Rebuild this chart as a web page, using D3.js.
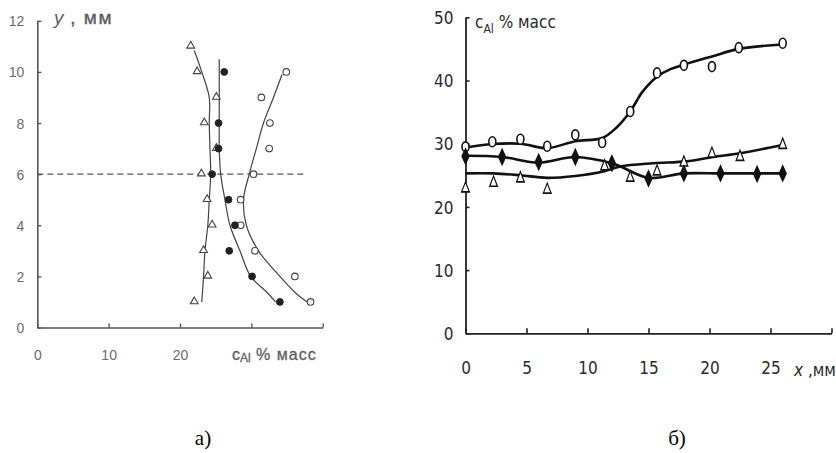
<!DOCTYPE html>
<html><head><meta charset="utf-8">
<script src="https://cdn.jsdelivr.net/npm/d3@7"></script>
<style>
body{margin:0;background:#fff;}
svg{display:block;}
.la text{font-family:"Liberation Sans",Arial,sans-serif;}
.ra text{font-family:"Liberation Sans Narrow","DejaVu Sans Condensed","Liberation Sans",sans-serif;font-stretch:condensed;}
</style></head>
<body>
<svg id="c" width="836" height="453"></svg>
<script>
// ---------- Panel a) : y (mm) vs c_Al (% mass) ----------
const aY = [1,2,3,4,5,6,7,8,9,10,11];
const aTriC = [22.0,23.9,23.3,24.5,23.8,23.0,25.1,23.4,25.1,22.4,21.5];
const aFillY = [1,2,3,4,5,6,7,8,10];
const aFillC = [34.0,30.1,26.9,27.7,26.8,24.5,25.4,25.4,26.2];
const aOpenY = [1,2,3,4,5,6,7,8,9,10];
const aOpenC = [38.3,36.1,30.5,28.5,28.5,30.3,32.5,32.6,31.4,34.9];
// fitted curves (c, y)
const aTriFitC = [23.05,23.3,23.5,23.9,24.1,24.3,24.2,24.1,24.1,23.05,22.0];
const aTriFitY = [1,2,3,4,5,6,7,8,9,10,10.84];
const aFillFitC = [33.4,32.1,29.9,28.4,27.0,26.3,25.7,25.5,25.5,25.5,25.5];
const aFillFitY = [1.0,1.4,2,3,4,5,6,7,8,9,10.5];
const aOpenFitC = [37.8,36.4,34.0,31.0,29.3,28.9,29.7,30.7,31.7,33.1,34.3];
const aOpenFitY = [1.0,1.3,2,3,4,5,6,7,8,9,9.9];
const aDashY = 6, aDashC = [0,37.5];
const aXTicks = [0,10,20,30,40];
const aXLabels = ["0","10","20","",""];
const aYTicks = [0,2,4,6,8,10,12];

// ---------- Panel б) : c_Al (% mass) vs x (mm) ----------
const bOpenX = [0,2.2,4.5,6.7,9.0,11.2,13.5,15.7,17.9,20.2,22.4,26.0];
const bOpenC = [29.5,30.3,30.7,29.6,31.4,30.2,35.1,41.2,42.4,42.2,45.2,45.9];
const bFillX = [0,3.0,6.0,9.0,12.0,15.0,17.9,20.9,23.9,26.0];
const bFillC = [28.0,27.9,27.1,27.9,26.9,24.5,25.3,25.3,25.2,25.3];
const bTriX = [0,2.3,4.5,6.7,11.4,13.5,15.7,17.9,20.2,22.5,26.0];
const bTriC = [22.9,23.8,24.5,22.7,26.4,24.6,25.6,27.0,28.4,27.9,29.8];
// fitted curves
const bOpenFitX = [0,2.2,4.5,6.7,9.0,11.2,12.4,13.5,14.5,15.7,16.8,17.9,20.2,22.4,26.0];
const bOpenFitC = [29.4,29.95,30.0,29.3,30.4,30.9,32.6,35.1,38.2,40.6,41.8,42.5,43.8,45.0,45.7];
const bFillFitX = [0,3.0,6.0,9.0,12.0,12.7,15.0,17.9,20.9,23.9,26.0];
const bFillFitC = [28.1,27.9,27.0,27.9,26.9,26.4,24.6,25.3,25.3,25.3,25.3];
const bTriFitX = [0,2.3,4.5,6.7,9.0,11.3,12.7,15.4,18.1,20.3,22.5,26.0];
const bTriFitC = [25.3,25.3,25.0,24.6,24.9,25.6,26.4,26.9,27.2,27.9,28.5,29.8];
const bXTicks = [0,5,10,15,20,25,30];
const bXLabels = ["0","5","10","15","20","25",""];
const bYTicks = [0,10,20,30,40,50];

const svg = d3.select("#c");

// ===== Panel a =====
const ax = d3.scaleLinear().domain([0,40]).range([37.3,322.7]);
const ay = d3.scaleLinear().domain([0,12]).range([327.5,20.8]);
const ga = svg.append("g").attr("class","la");
const aCol = "#6b6b6b";

const axA = ga.append("g").attr("transform",`translate(0,${ay(0)})`)
  .call(d3.axisBottom(ax).tickValues(aXTicks).tickFormat((d,i)=>aXLabels[i]).tickSizeInner(-4).tickSizeOuter(0).tickPadding(23));
const ayA = ga.append("g").attr("transform",`translate(${ax(0)},0)`)
  .call(d3.axisLeft(ay).tickValues(aYTicks).tickSizeInner(-4).tickSizeOuter(0).tickPadding(13));
[axA,ayA].forEach(g=>{
  g.selectAll("path.domain").attr("stroke","#555").attr("stroke-width",1.6);
  g.selectAll("line").attr("stroke","#555").attr("stroke-width",1.4);
  g.selectAll("text").attr("fill",aCol).style("font-size","14px");
});
ayA.selectAll("text").attr("dy","0.36em");

// dashed line
ga.append("line").attr("x1",ax(aDashC[0])).attr("x2",ax(aDashC[1]))
  .attr("y1",ay(aDashY)).attr("y2",ay(aDashY))
  .attr("stroke","#555").attr("stroke-width",1.2).attr("stroke-dasharray","6,4");

const aLine = d3.line().x(d=>ax(d[0])).y(d=>ay(d[1])).curve(d3.curveCatmullRom.alpha(0.5));
const zip = (a,b)=>a.map((v,i)=>[v,b[i]]);
[[aTriFitC,aTriFitY],[aFillFitC,aFillFitY],[aOpenFitC,aOpenFitY]].forEach(([c,y])=>{
  ga.append("path").attr("d",aLine(zip(c,y))).attr("fill","none").attr("stroke","#444").attr("stroke-width",1.2);
});
const triA = d3.symbol(d3.symbolTriangle, 26)();
ga.selectAll(".at").data(zip(aTriC,aY)).join("path")
  .attr("d",triA).attr("transform",d=>`translate(${ax(d[0])},${ay(d[1])-0.5})`)
  .attr("fill","#fff").attr("stroke","#444").attr("stroke-width",1.1);
ga.selectAll(".ao").data(zip(aOpenC,aOpenY)).join("circle")
  .attr("cx",d=>ax(d[0])).attr("cy",d=>ay(d[1])).attr("r",3.3)
  .attr("fill","#fff").attr("stroke","#444").attr("stroke-width",1.1);
ga.selectAll(".af").data(zip(aFillC,aFillY)).join("circle")
  .attr("cx",d=>ax(d[0])).attr("cy",d=>ay(d[1])).attr("r",3.4)
  .attr("fill","#222").attr("stroke","#222");

// axis titles a
const tA = ga.append("text").attr("x",54).attr("y",24).attr("fill","#5e5e5e")
  .style("font-size","19px");
tA.append("tspan").text("y").style("font-style","italic");
tA.append("tspan").text(" ,  мм").style("letter-spacing","1.5px").style("stroke","#5e5e5e").style("stroke-width","0.4px");
const tA2 = ga.append("text").attr("x",232).attr("y",360).attr("fill","#5e5e5e").style("font-size","16px")
  .style("stroke","#5e5e5e").style("stroke-width","0.3px");
tA2.append("tspan").text("c");
tA2.append("tspan").text("Al").attr("dy",2).style("font-size","12px");
tA2.append("tspan").text(" % масс").attr("dy",-2).style("letter-spacing","1px");
svg.append("text").attr("x",203).attr("y",445).attr("text-anchor","middle")
  .style("font-family","'Liberation Serif','Times New Roman',serif").style("font-size","21px").text("а)");

// ===== Panel б =====
const bx = d3.scaleLinear().domain([0,30]).range([465.5,831.5]);
const by = d3.scaleLinear().domain([0,50]).range([333.3,17.3]);
const gb = svg.append("g").attr("class","ra");
const bCol = "#2a2a2a";
const bxA = gb.append("g").attr("transform",`translate(0,${by(0)})`)
  .call(d3.axisBottom(bx).tickValues(bXTicks).tickFormat((d,i)=>bXLabels[i]).tickSizeInner(-5).tickSizeOuter(0).tickPadding(29));
const byA = gb.append("g").attr("transform",`translate(${bx(0)},0)`)
  .call(d3.axisLeft(by).tickValues(bYTicks).tickSizeInner(-4).tickSizeOuter(0).tickPadding(12));
[bxA,byA].forEach(g=>{
  g.selectAll("path.domain").attr("stroke","#222").attr("stroke-width",1.8);
  g.selectAll("line").attr("stroke","#222").attr("stroke-width",1.6);
  g.selectAll("text").attr("fill",bCol).style("font-size","17px");
});
byA.selectAll("text").attr("dy","0.36em");

const bLine = d3.line().x(d=>bx(d[0])).y(d=>by(d[1])).curve(d3.curveCatmullRom.alpha(0.5));
[[bOpenFitX,bOpenFitC],[bFillFitX,bFillFitC],[bTriFitX,bTriFitC]].forEach(([x,c])=>{
  gb.append("path").attr("d",bLine(zip(x,c))).attr("fill","none").attr("stroke","#111").attr("stroke-width",2.6);
});
const triB = d3.symbol(d3.symbolTriangle, 26)();
gb.selectAll(".bt").data(zip(bTriX,bTriC)).join("path")
  .attr("d",triB).attr("transform",d=>`translate(${bx(d[0])},${by(d[1])}) scale(1,1.5)`)
  .attr("fill","#fff").attr("stroke","#111").attr("stroke-width",1.1);
gb.selectAll(".bo").data(zip(bOpenX,bOpenC)).join("ellipse")
  .attr("cx",d=>bx(d[0])).attr("cy",d=>by(d[1])).attr("rx",3.5).attr("ry",5)
  .attr("fill","#fff").attr("stroke","#111").attr("stroke-width",1.6);
const dia = d3.symbol(d3.symbolDiamond, 44)();
gb.selectAll(".bf").data(zip(bFillX,bFillC)).join("path")
  .attr("d",dia).attr("transform",d=>`translate(${bx(d[0])},${by(d[1])}) scale(0.95,1.2)`)
  .attr("fill","#111").attr("stroke","#111").attr("stroke-width",1.5);

const tB = gb.append("text").attr("x",475).attr("y",28).attr("fill",bCol).style("font-size","17px");
tB.append("tspan").text("c");
tB.append("tspan").text("Al").attr("dy",5).style("font-size","12px");
tB.append("tspan").text(" % масс").attr("dy",-5);
const tB2 = gb.append("text").attr("x",794).attr("y",376).attr("fill",bCol).style("font-size","17px");
tB2.append("tspan").text("x").style("font-style","italic");
tB2.append("tspan").text(" ,мм");
svg.append("text").attr("x",677).attr("y",445).attr("text-anchor","middle")
  .style("font-family","'Liberation Serif','Times New Roman',serif").style("font-size","21px").text("б)");
</script>
</body></html>
